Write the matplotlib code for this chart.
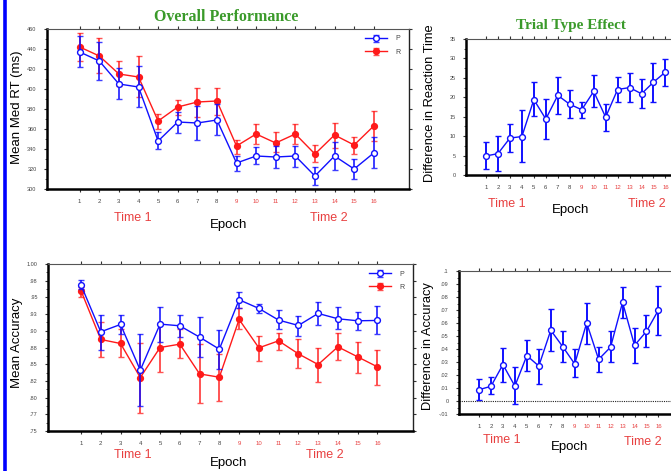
import matplotlib
matplotlib.use('Agg')
import matplotlib.pyplot as plt
from matplotlib.ticker import MultipleLocator

plt.rcParams['font.family'] = ['Liberation Sans', 'DejaVu Sans']

epochs = list(range(1, 17))

# Overall Performance - reaction time (ms)
rt_p = [437, 428, 405, 402, 348, 367, 366, 369, 326, 333, 332, 333, 313, 333, 320, 336]
rt_p_lo = [422, 409, 390, 382, 340, 356, 349, 354, 318, 325, 321, 322, 304, 319, 310, 321]
rt_p_hi = [453, 447, 421, 423, 357, 377, 383, 385, 333, 342, 343, 343, 322, 347, 330, 352]
rt_r = [442, 433, 415, 412, 368, 382, 387, 388, 343, 355, 346, 355, 335, 354, 344, 363]
rt_r_lo = [428, 416, 403, 392, 360, 374, 372, 374, 335, 345, 337, 345, 327, 341, 335, 348]
rt_r_hi = [456, 451, 428, 433, 375, 389, 401, 401, 349, 365, 357, 365, 344, 366, 352, 378]

# Trial type effect - RT difference
rt_diff = [4.9, 5.5, 9.5, 9.9, 19.4, 14.4, 20.5, 18.2, 16.8, 21.5, 14.9, 22.0, 22.5, 20.9, 23.9, 26.5]
rt_diff_lo = [1.5, 1.1, 5.8, 3.3, 15.2, 9.2, 15.8, 14.7, 14.6, 17.4, 11.4, 18.7, 18.7, 17.2, 18.9, 22.9]
rt_diff_hi = [8.5, 10.1, 13.0, 16.7, 23.9, 19.6, 25.3, 21.8, 18.9, 25.7, 18.3, 25.3, 26.2, 24.6, 28.9, 29.9]

# Mean accuracy
acc_p = [.9685, .8985, .9095, .841, .910, .9075, .8905, .8725, .9465, .9335, .916, .908, .926, .918, .915, .9155]
acc_p_lo = [.962, .872, .895, .788, .8825, .891, .861, .8435, .9345, .9265, .902, .892, .908, .902, .901, .8945]
acc_p_hi = [.9755, .924, .924, .895, .936, .924, .921, .9015, .9585, .9405, .931, .922, .943, .9355, .9285, .9365]
acc_r = [.960, .887, .881, .830, .875, .880, .8355, .8305, .917, .8745, .885, .8655, .8495, .876, .861, .846]
acc_r_lo = [.951, .8605, .8605, .7775, .8385, .860, .792, .7945, .902, .8545, .872, .844, .824, .856, .8375, .819]
acc_r_hi = [.966, .9125, .902, .881, .911, .902, .8795, .866, .9335, .8925, .897, .887, .8745, .896, .8825, .872]

# Accuracy difference
acc_diff = [.0087, .0113, .028, .0115, .0349, .0269, .0544, .0418, .0285, .060, .032, .0415, .0759, .0428, .0536, .070]
acc_diff_lo = [.001, .0051, .0149, -.0023, .0228, .0131, .0387, .0303, .0182, .0441, .0223, .0303, .0641, .0292, .0415, .051]
acc_diff_hi = [.0169, .0187, .0408, .0259, .0472, .040, .0705, .0538, .0397, .0756, .0413, .0538, .0877, .0562, .0662, .0887]

acc_ticks = [.75, .775, .80, .825, .85, .875, .90, .925, .95, .975, 1.00]
acc_ticklabels = ['.75', '.77', '.80', '.82', '.85', '.88', '.90', '.93', '.95', '.98', '1.00']
accd_ticks = [-.01, 0, .01, .02, .03, .04, .05, .06, .07, .08, .09, .1]
accd_ticklabels = ['-.01', '0', '.01', '.02', '.03', '.04', '.05', '.06', '.07', '.08', '.09', '.1']

BLUE = '#1010ff'
RED = '#ff1a1a'
GREEN = '#3a9a2a'
TICKRED = '#e84040'

W, H = 671, 471
fig = plt.figure(figsize=(W / 100, H / 100), dpi=100)


def px(x, y):
    return x / W, 1 - y / H


def ftext(x, y, s, **kw):
    fx, fy = px(x, y)
    fig.text(fx, fy, s, ha='center', va='center', **kw)


def style(ax, ymin, ymax, ystep, minor):
    ax.set_xlim(-0.67, 17.8)
    ax.set_ylim(ymin, ymax)
    ax.set_xticks(epochs)
    ax.set_xticklabels([str(e) for e in epochs])
    ax.yaxis.set_major_locator(MultipleLocator(ystep))
    ax.yaxis.set_minor_locator(MultipleLocator(minor))
    ax.tick_params(axis='both', labelsize=4, colors='#333333', labelcolor='#444444',
                   length=2.5, width=0.8, pad=5)
    ax.tick_params(axis='x', labelsize=4.3)
    for lab, e in zip(ax.get_xticklabels(), epochs):
        lab.set_color(TICKRED if e >= 9 else '#444444')
    ax.tick_params(which='minor', length=1.5, width=0.6, colors='#333333')
    ax.tick_params(top=True, right=True, direction='out')
    ax.tick_params(axis='x', which='both', top=True)
    ax.spines['left'].set_linewidth(1.8)
    ax.spines['bottom'].set_linewidth(1.8)
    ax.spines['top'].set_linewidth(0.8)
    ax.spines['right'].set_linewidth(1.0)
    ax.spines['top'].set_color('#555555')
    ax.spines['right'].set_color('#222222')


def errs(vals, lo, hi):
    return [[v - l for v, l in zip(vals, lo)], [h - v for v, h in zip(vals, hi)]]


def pair(ax, vp, plo, phi, vr, rlo, rhi):
    ax.errorbar(epochs, vr, yerr=errs(vr, rlo, rhi), color=RED, lw=1.0, elinewidth=1.4,
                capsize=2, capthick=1.0, marker='o', ms=4.2, mfc=RED, mec=RED,
                ecolor=(1, 0.1, 0.1, 0.75), label='R', zorder=2)
    ax.errorbar(epochs, vp, yerr=errs(vp, plo, phi), color=BLUE, lw=1.0, elinewidth=1.4,
                capsize=2, capthick=1.0, marker='o', ms=4.2, mfc='white', mec=BLUE,
                mew=1.0, ecolor=(0.05, 0.05, 1, 0.8), label='P', zorder=3)
    h, l = ax.get_legend_handles_labels()
    ax.legend([h[1], h[0]], ['P', 'R'], loc='upper right', bbox_to_anchor=(0.99, 0.99),
              frameon=False, fontsize=5, handlelength=3.2, labelspacing=0.9,
              handletextpad=1.2, borderaxespad=0.3, labelcolor='#444444')


def single(ax, v, lo, hi):
    ax.errorbar(epochs, v, yerr=errs(v, lo, hi), color=BLUE, lw=1.0, elinewidth=1.4,
                capsize=2, capthick=1.0, marker='o', ms=4.2, mfc='white', mec=BLUE,
                mew=1.0, ecolor=BLUE, zorder=3)


# blue bar along the left edge
fig.add_artist(plt.Line2D([4.5 / W, 4.5 / W], [0, 1], color='#0000ff', lw=2.6,
                          transform=fig.transFigure))

# Top-left: Overall Performance
ax1 = fig.add_axes([47 / W, 1 - 189 / H, 362 / W, 160 / H])
style(ax1, 300, 460, 20, 10)
pair(ax1, rt_p, rt_p_lo, rt_p_hi, rt_r, rt_r_lo, rt_r_hi)
ftext(226, 17, 'Overall Performance', color=GREEN, fontsize=11.5, fontweight='bold',
      family='Liberation Serif')
ftext(17, 107, 'Mean Med RT (ms)', fontsize=9.5, rotation=90)
ftext(133, 218, 'Time 1', color=TICKRED, fontsize=9)
ftext(329, 218, 'Time 2', color=TICKRED, fontsize=9)
ftext(229, 225, 'Epoch', fontsize=9.5)

# Top-right: Trial Type Effect
ax2 = fig.add_axes([466 / W, 1 - 175 / H, 221 / W, 136 / H])
style(ax2, 0, 35, 5, 2.5)
single(ax2, rt_diff, rt_diff_lo, rt_diff_hi)
ftext(571, 25, 'Trial Type Effect', color=GREEN, fontsize=11, fontweight='bold',
      family='Liberation Serif')
ftext(430, 103, 'Difference in Reaction Time', fontsize=9.3, rotation=90)
ftext(507, 204, 'Time 1', color=TICKRED, fontsize=9)
ftext(647, 204, 'Time 2', color=TICKRED, fontsize=9)
ftext(571, 210, 'Epoch', fontsize=9.5)

# Bottom-left: Mean Accuracy
ax3 = fig.add_axes([48 / W, 1 - 431 / H, 365 / W, 167 / H])
style(ax3, 0.75, 1.0, 0.025, 0.0125)
ax3.set_yticks(acc_ticks)
ax3.set_yticklabels(acc_ticklabels)
ax3.yaxis.set_minor_locator(MultipleLocator(0.0125))
pair(ax3, acc_p, acc_p_lo, acc_p_hi, acc_r, acc_r_lo, acc_r_hi)
ftext(17, 343, 'Mean Accuracy', fontsize=9.5, rotation=90)
ftext(133, 455, 'Time 1', color=TICKRED, fontsize=9)
ftext(325, 455, 'Time 2', color=TICKRED, fontsize=9)
ftext(229, 463, 'Epoch', fontsize=9.5)

# Bottom-right: Accuracy difference
ax4 = fig.add_axes([459 / W, 1 - 414 / H, 221 / W, 143 / H])
style(ax4, -0.01, 0.1, 0.01, 0.005)
ax4.set_yticks(accd_ticks)
ax4.set_yticklabels(accd_ticklabels)
ax4.axhline(0, color='#222222', lw=0.8, ls=(0, (1, 1)), zorder=1)
single(ax4, acc_diff, acc_diff_lo, acc_diff_hi)
ftext(428, 346, 'Difference in Accuracy', fontsize=9.3, rotation=90)
ftext(502, 440, 'Time 1', color=TICKRED, fontsize=9)
ftext(643, 442, 'Time 2', color=TICKRED, fontsize=9)
ftext(570, 447, 'Epoch', fontsize=9.5)

fig.savefig('out.png', dpi=100)
